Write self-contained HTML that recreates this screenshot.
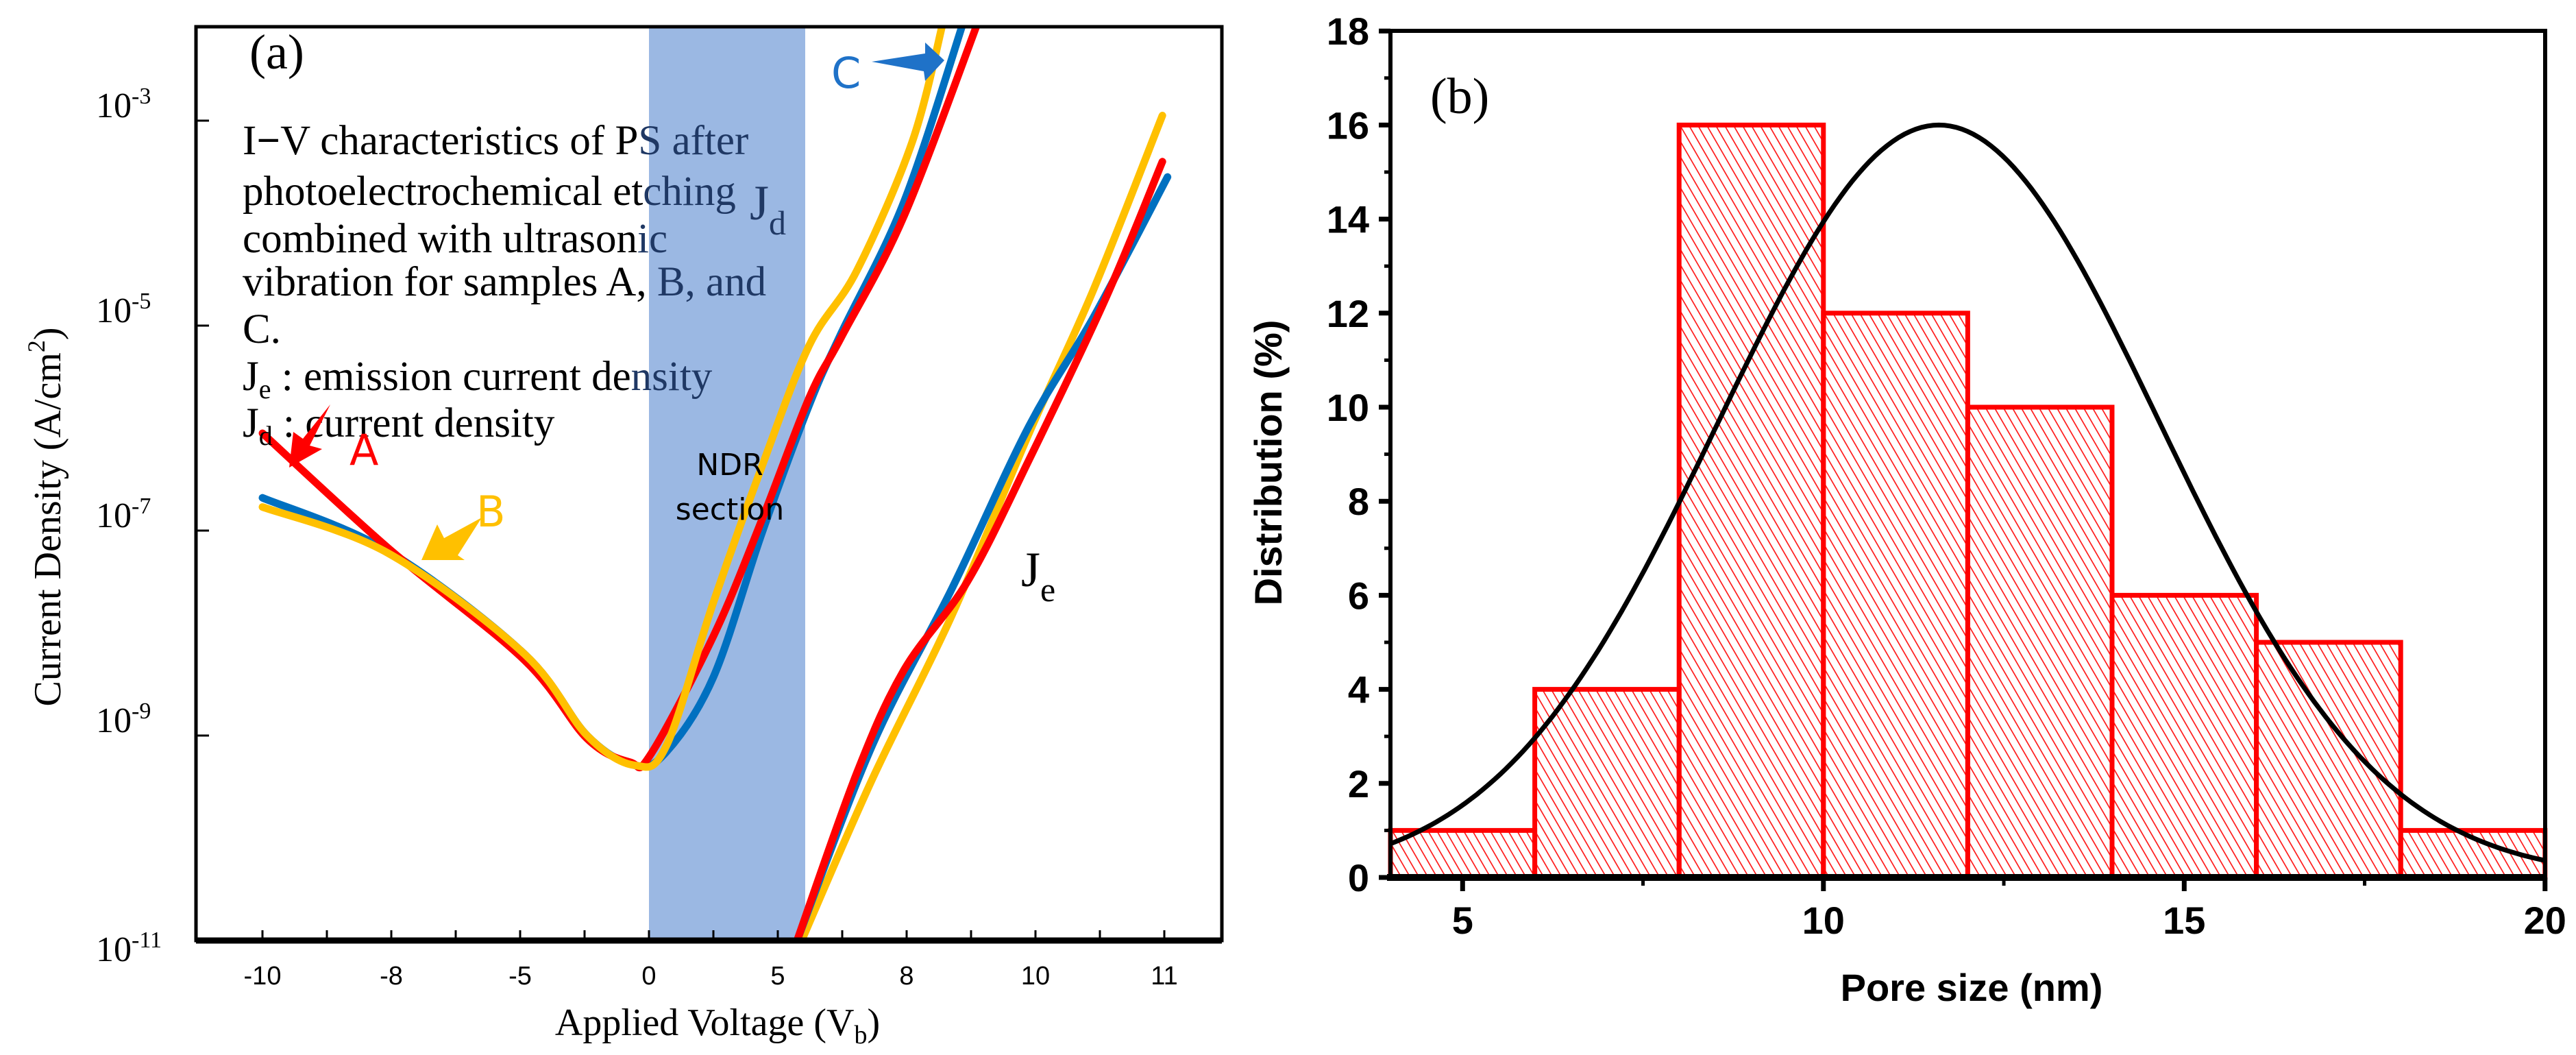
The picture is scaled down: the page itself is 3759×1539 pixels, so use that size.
<!DOCTYPE html>
<html><head><meta charset="utf-8"><style>
html,body{margin:0;padding:0;background:#fff;}
svg{display:block;}
</style></head><body>
<svg id="fig" width="3759" height="1539" viewBox="0 0 3759 1539" xmlns="http://www.w3.org/2000/svg">
<defs>
<pattern id="hatch" patternUnits="userSpaceOnUse" width="13" height="13" patternTransform="skewX(30)">
<line x1="6" y1="0" x2="6" y2="13" stroke="#ff2020" stroke-width="2"/>
</pattern>
<clipPath id="clipA"><rect x="286" y="39" width="1497" height="1333"/></clipPath>
<clipPath id="clipB"><rect x="2029" y="45" width="1685" height="1235"/></clipPath>
</defs>
<rect width="3759" height="1539" fill="#fff"/>

<g id="panelA">
<rect x="947" y="39" width="228" height="1333" fill="#9BB8E3"/>
<g id="aTicks"></g>
<g id="aCurves" clip-path="url(#clipA)"></g>
<rect x="286" y="39" width="1497" height="1333" fill="none" stroke="#000" stroke-width="5"/>
<line x1="286" y1="1372" x2="1783" y2="1372" stroke="#000" stroke-width="9"/>
<g id="aYLabels" font-family="Liberation Serif, serif" font-size="52" fill="#000"></g>
<g id="aXLabels" font-family="Liberation Sans, sans-serif" font-size="38" fill="#000" text-anchor="middle"></g>
<text x="364" y="100" font-family="Liberation Serif, serif" font-size="72">(a)</text>
<g font-family="Liberation Serif, serif" font-size="61" fill="#000">
<text x="354" y="225">I<tspan font-weight="bold">−</tspan>V characteristics of P<tspan fill="#1F3864">S after</tspan></text>
<text x="354" y="299">photoelectrochemical et<tspan fill="#1F3864">ching</tspan></text>
<text x="354" y="368">combined with ultrason<tspan fill="#1F3864">ic</tspan></text>
<text x="354" y="431">vibration for samples A,<tspan fill="#1F3864"> B, and</tspan></text>
<text x="354" y="500">C.</text>
<text x="354" y="569">J<tspan font-size="40" dy="12">e</tspan><tspan dy="-12"> : emission current de</tspan><tspan fill="#1F3864">nsity</tspan></text>
<text x="354" y="637">J<tspan font-size="40" dy="12">d</tspan><tspan dy="-12"> : current density</tspan></text>
</g>
<text x="1094" y="320" font-family="Liberation Serif, serif" font-size="72" fill="#1F3864">J<tspan font-size="50" dy="22">d</tspan></text>
<text x="1490" y="855" font-family="Liberation Serif, serif" font-size="72" fill="#000">J<tspan font-size="50" dy="22">e</tspan></text>
<text x="1065" y="693" font-family="DejaVu Sans, sans-serif" font-size="44" text-anchor="middle">NDR</text>
<text x="1065" y="758" font-family="DejaVu Sans, sans-serif" font-size="44" text-anchor="middle">section</text>
<text x="510" y="678" font-family="DejaVu Sans, sans-serif" font-size="62" fill="#ff0000">A</text>
<text x="695" y="768" font-family="DejaVu Sans, sans-serif" font-size="62" fill="#FFC000">B</text>
<text x="1213" y="128" font-family="DejaVu Sans, sans-serif" font-size="62" fill="#1F72C8">C</text>
<polygon points="482,590 452,650 470,655 422,682 428,630 442,640" fill="#ff0000"/>
<polygon points="703,755 668,810 678,817 615,817 638,765 648,785" fill="#FFC000"/>
<polygon points="1272,90 1350,78 1350,62 1378,88 1350,118 1348,104" fill="#1F72C8"/>
<text x="75" y="754" transform="rotate(-90 75 754)" text-anchor="middle" dominant-baseline="middle" font-family="Liberation Serif, serif" font-size="56">Current Density (A/cm<tspan font-size="36" dy="-18">2</tspan><tspan dy="18">)</tspan></text>
<text x="1047" y="1510" text-anchor="middle" font-family="Liberation Serif, serif" font-size="56">Applied Voltage (V<tspan font-size="38" dy="12">b</tspan><tspan dy="-12">)</tspan></text>
</g>

<g id="panelB">
<g id="bBars"></g>
<g clip-path="url(#clipB)"><path id="bCurve" fill="none" stroke="#000" stroke-width="7"/></g>
<rect x="2029" y="45" width="1685" height="1235" fill="none" stroke="#000" stroke-width="6"/>
<line x1="2024" y1="1280" x2="3717" y2="1280" stroke="#000" stroke-width="10"/>
<g id="bTicks"></g>
<g id="bYLabels" font-family="Liberation Sans, sans-serif" font-weight="bold" font-size="56" text-anchor="end"></g>
<g id="bXLabels" font-family="Liberation Sans, sans-serif" font-weight="bold" font-size="56" text-anchor="middle"></g>
<text x="2087" y="165" font-family="Liberation Serif, serif" font-size="74">(b)</text>
<text x="1855" y="675" transform="rotate(-90 1855 675)" text-anchor="middle" dominant-baseline="middle" font-family="Liberation Sans, sans-serif" font-weight="bold" font-size="56">Distribution (%)</text>
<text x="2877" y="1460" text-anchor="middle" font-family="Liberation Sans, sans-serif" font-weight="bold" font-size="56">Pore size (nm)</text>
</g>
</svg>
<script>
const aXTickLabels = ["-10","","-8","","-5","","0","","5","","8","","10","","11"];
const aYTickExps = [-3,-5,-7,-9,-11];
const jdA_x = [0,1.95,4.06,5.04,5.71,6.02,7.0,7.75,8.49,8.98,9.96,11.13];
const jdA_y = [-6.05,-7.17,-8.26,-9.03,-9.26,-9.19,-8.03,-6.9,-5.7,-5.12,-3.93,-2.0];
const jdB_x = [0,1.95,4.06,5.04,5.78,6.27,7.0,7.75,8.49,9.23,10.09,10.58];
const jdB_y = [-6.77,-7.22,-8.2,-9.0,-9.29,-9.1,-7.70,-6.38,-5.19,-4.46,-3.2,-2.0];
const jdC_x = [0,1.95,4.06,5.04,5.78,6.27,7.0,7.75,8.49,8.98,9.96,10.9];
const jdC_y = [-6.68,-7.2,-8.2,-9.0,-9.29,-9.16,-8.43,-7.03,-5.77,-5.08,-3.79,-2.0];
const jeA_x = [8.3,9.23,9.96,10.94,11.9,13.1,13.97];
const jeA_y = [-11,-9.36,-8.36,-7.5,-6.31,-4.72,-3.4];
const jeB_x = [8.37,9.47,10.7,11.9,12.9,13.97];
const jeB_y = [-11,-9.42,-7.83,-6.05,-4.65,-2.95];
const jeC_x = [8.3,9.47,10.7,11.9,12.9,14.05];
const jeC_y = [-11,-9.09,-7.57,-5.98,-4.92,-3.55];

const binEdges = [4,6,8,10,12,14,16,18,20];
const binValues = [1,4,16,12,10,6,5,1];
const fitAmp = [16];
const fitMean = [11.6];
const fitSigma = [3.05];
const bXTicks = [5,10,15,20];
const bYTicks = [0,2,4,6,8,10,12,14,16,18];

const NS = "http://www.w3.org/2000/svg";
function mk(tag, attrs, parent){const e=document.createElementNS(NS,tag);for(const k in attrs)e.setAttribute(k,attrs[k]);parent.appendChild(e);return e;}
const ax = i => 383 + i*94.0;
const ay = l => 1372 - (l+11)*149.5;
function smooth(pts){
  let d = "M"+pts[0][0].toFixed(1)+","+pts[0][1].toFixed(1);
  for(let i=0;i<pts.length-1;i++){
    const p0=pts[Math.max(i-1,0)],p1=pts[i],p2=pts[i+1],p3=pts[Math.min(i+2,pts.length-1)];
    const c1=[p1[0]+(p2[0]-p0[0])/6,p1[1]+(p2[1]-p0[1])/6];
    const c2=[p2[0]-(p3[0]-p1[0])/6,p2[1]-(p3[1]-p1[1])/6];
    d+=" C"+c1[0].toFixed(1)+","+c1[1].toFixed(1)+" "+c2[0].toFixed(1)+","+c2[1].toFixed(1)+" "+p2[0].toFixed(1)+","+p2[1].toFixed(1);
  }
  return d;
}
const aT=document.getElementById("aTicks"), aXL=document.getElementById("aXLabels"), aYL=document.getElementById("aYLabels");
aXTickLabels.forEach((lab,i)=>{
  const t=mk("line",{x1:ax(i),x2:ax(i),y1:1372,y2:1357,stroke:"#000","stroke-width":3},aT);
  
  
  if(lab){const tx=mk("text",{x:ax(i),y:1436},aXL);tx.textContent=lab;
    
    }
});
aYTickExps.forEach(e=>{
  const y=ay(e);
  const t=mk("line",{x1:286,x2:305,y1:y,y2:y,stroke:"#000","stroke-width":3},aT);
  
  
  const tx=mk("text",{x:140,y:y+(e===-11?30:-5)},aYL);
  
  
  tx.textContent="10";
  const sp=mk("tspan",{"font-size":34,dy:-20},tx); sp.textContent=String(e);
});
const aC=document.getElementById("aCurves");
function curve(xs,ys,color,name){
  const p=mk("path",{d:smooth(xs.map((x,i)=>[ax(x),ay(ys[i])])),fill:"none",stroke:color,"stroke-width":11,"stroke-linecap":"round"},aC);
  
  
}
curve(jdC_x,jdC_y,"#0070C0","jd-curve-c");
curve(jdA_x,jdA_y,"#FF0000","jd-curve-a");
curve(jdB_x,jdB_y,"#FFC000","jd-curve-b");
curve(jeB_x,jeB_y,"#FFC000","je-curve-b");
curve(jeC_x,jeC_y,"#0070C0","je-curve-c");
curve(jeA_x,jeA_y,"#FF0000","je-curve-a");

const bx = v => 2029 + (v-4)*105.3;
const by = v => 1280 - v*68.6;
const bB=document.getElementById("bBars");
binValues.forEach((v,i)=>{
  const x0=bx(binEdges[i]),x1=bx(binEdges[i+1]);
  const r=mk("rect",{x:x0,y:by(v),width:x1-x0,height:by(0)-by(v),fill:"url(#hatch)",stroke:"#ff0000","stroke-width":7},bB);
  
  
});
let pts=[];
for(let k=0;k<=200;k++){const x=4+16*k/200;pts.push([bx(x),by(fitAmp[0]*Math.exp(-Math.pow(x-fitMean[0],2)/(2*fitSigma[0]*fitSigma[0])))]);}
document.getElementById("bCurve").setAttribute("d","M"+pts.map(p=>p[0].toFixed(1)+","+p[1].toFixed(1)).join(" L"));
const bT=document.getElementById("bTicks"),bXL=document.getElementById("bXLabels"),bYL=document.getElementById("bYLabels");
bYTicks.forEach(v=>{
  const t=mk("line",{x1:2012,x2:2029,y1:by(v),y2:by(v),stroke:"#000","stroke-width":7},bT);
  
  
  const m=mk("line",{x1:2020,x2:2029,y1:by(v+1),y2:by(v+1),stroke:"#000","stroke-width":5},bT);
  
  
  const tx=mk("text",{x:1998,y:by(v)+20},bYL);tx.textContent=v;
  
  
});
bXTicks.forEach(v=>{
  const t=mk("line",{x1:bx(v),x2:bx(v),y1:1280,y2:1300,stroke:"#000","stroke-width":7},bT);
  
  
  if(v<20){const m=mk("line",{x1:bx(v+2.5),x2:bx(v+2.5),y1:1280,y2:1292,stroke:"#000","stroke-width":5},bT);
    
    }
  const tx=mk("text",{x:bx(v),y:1362},bXL);tx.textContent=v;
  
  
});
</script>
</body></html>
